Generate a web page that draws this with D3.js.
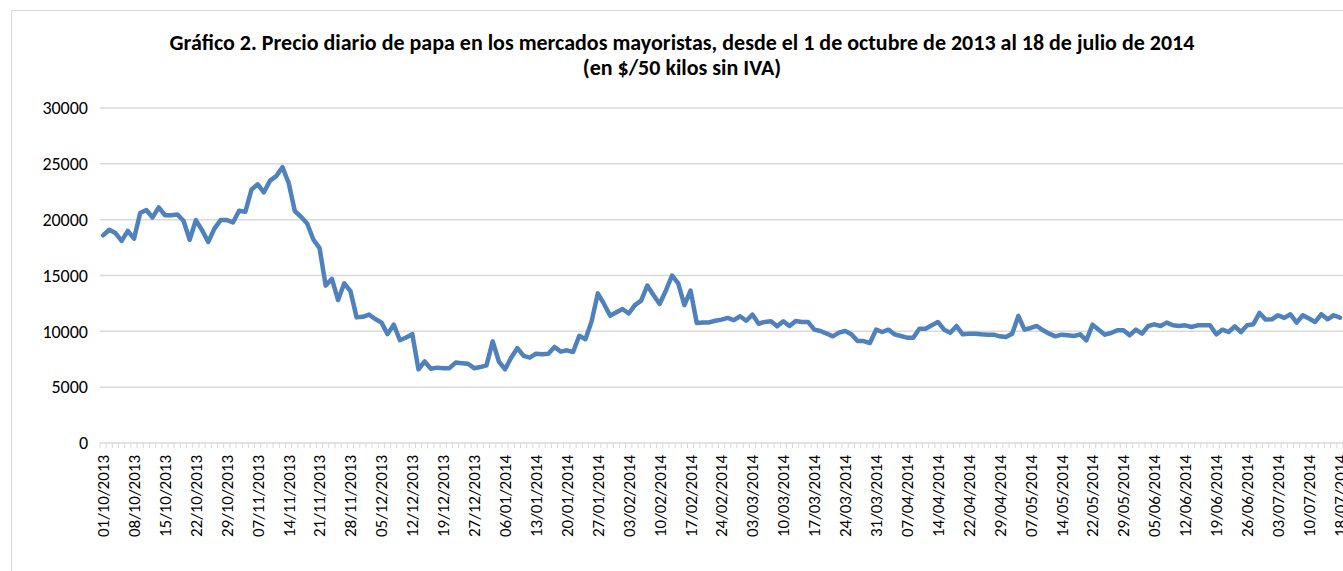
<!DOCTYPE html>
<html>
<head>
<meta charset="utf-8">
<script src="https://cdn.jsdelivr.net/npm/d3@7"></script>
<style>
  body { margin: 0; background: #fff; }
  svg { display: block; font-family: Carlito, Lato, "Open Sans", sans-serif; }
</style>
</head>
<body>
<svg id="chart" width="1343" height="571"></svg>
<script>
// tick labels every 5 trading days
const tickLabels = [
  "01/10/2013","08/10/2013","15/10/2013","22/10/2013","29/10/2013","07/11/2013","14/11/2013",
  "21/11/2013","28/11/2013","05/12/2013","12/12/2013","19/12/2013","27/12/2013","06/01/2014",
  "13/01/2014","20/01/2014","27/01/2014","03/02/2014","10/02/2014","17/02/2014","24/02/2014",
  "03/03/2014","10/03/2014","17/03/2014","24/03/2014","31/03/2014","07/04/2014","14/04/2014",
  "22/04/2014","29/04/2014","07/05/2014","14/05/2014","22/05/2014","29/05/2014","05/06/2014",
  "12/06/2014","19/06/2014","26/06/2014","03/07/2014","10/07/2014","18/07/2014"
];

// daily price, $/50 kg sin IVA
const prices = [
  18600,19100,18800,18100,19000,18300,20600,20860,20200,21100,
  20400,20400,20470,19900,18200,19960,19060,18000,19200,19960,
  19960,19750,20800,20700,22700,23170,22450,23500,23900,24700,
  23300,20770,20260,19660,18220,17450,14100,14700,12800,14300,
  13600,11250,11300,11500,11100,10800,9750,10600,9200,9450,
  9750,6600,7300,6650,6750,6700,6700,7200,7150,7100,
  6700,6800,6950,9100,7300,6600,7650,8500,7800,7650,
  8000,7950,8000,8600,8180,8300,8150,9600,9300,10900,
  13400,12450,11400,11700,12000,11600,12350,12750,14100,13250,
  12450,13650,15000,14300,12350,13650,10750,10800,10800,10950,
  11050,11200,11000,11350,10950,11500,10680,10840,10900,10450,
  10900,10480,10930,10840,10840,10150,10030,9800,9550,9880,
  10030,9730,9130,9130,8950,10150,9940,10150,9730,9580,
  9430,9430,10240,10240,10540,10840,10150,9880,10480,9730,
  9790,9790,9730,9700,9700,9550,9490,9790,11380,10150,
  10300,10480,10090,9790,9550,9700,9640,9580,9730,9190,
  10600,10150,9700,9850,10090,10090,9640,10150,9790,10480,
  10630,10480,10780,10540,10480,10540,10390,10540,10540,10540,
  9730,10150,9940,10450,9940,10540,10630,11650,11050,11080,
  11440,11200,11530,10780,11440,11140,10840,11530,11080,11440,
  11230
];

const yTicks = [0, 5000, 10000, 15000, 20000, 25000, 30000];

const titleLines = [
  "Gráfico 2. Precio diario de papa en los mercados mayoristas, desde el 1 de octubre de 2013 al 18 de julio de 2014",
  "(en $/50 kilos sin IVA)"
];

const svg = d3.select("#chart");
const plot = { left: 100, right: 1343, top: 108, bottom: 443 };
const grid = "#d9d9d9";

// chart border
svg.append("rect")
  .attr("x", 11.5).attr("y", 10.5)
  .attr("width", 1400).attr("height", 600)
  .attr("fill", "none").attr("stroke", grid).attr("stroke-width", 1);

const x = d3.scaleBand()
  .domain(d3.range(prices.length))
  .range([plot.left, plot.right]);

const y = d3.scaleLinear()
  .domain([0, 30000])
  .range([plot.bottom, plot.top]);

// gridlines
svg.append("g")
  .selectAll("line")
  .data(yTicks)
  .join("line")
  .attr("x1", plot.left).attr("x2", plot.right)
  .attr("y1", d => y(d)).attr("y2", d => y(d))
  .attr("stroke", grid).attr("stroke-width", 1.5);

// y labels
svg.append("g")
  .selectAll("text")
  .data(yTicks)
  .join("text")
  .attr("x", 88).attr("y", d => y(d))
  .attr("dy", "0.35em")
  .attr("text-anchor", "end")
  .attr("font-size", 18)
  .attr("fill", "#000")
  .text(d => d);

// category tick marks
const bounds = d3.range(prices.length + 1).map(i => plot.left + i * x.step());
svg.append("g")
  .selectAll("line")
  .data(bounds)
  .join("line")
  .attr("x1", d => d).attr("x2", d => d)
  .attr("y1", plot.bottom).attr("y2", plot.bottom + 5)
  .attr("stroke", grid).attr("stroke-width", 1);

// x labels
svg.append("g")
  .selectAll("text")
  .data(tickLabels)
  .join("text")
  .attr("transform", (d, i) => `translate(${x(i * 5) + x.bandwidth() / 2},455) rotate(-90)`)
  .attr("dy", "0.35em")
  .attr("text-anchor", "end")
  .attr("font-size", 17)
  .attr("fill", "#000")
  .text(d => d);

// line
const line = d3.line()
  .x((d, i) => x(i) + x.bandwidth() / 2)
  .y(d => y(d));

svg.append("path")
  .datum(prices)
  .attr("d", line)
  .attr("fill", "none")
  .attr("stroke", "#4f81bd")
  .attr("stroke-width", 4.5)
  .attr("stroke-linejoin", "round")
  .attr("stroke-linecap", "round");

// title
svg.append("g")
  .selectAll("text")
  .data(titleLines)
  .join("text")
  .attr("x", 682)
  .attr("y", (d, i) => 50 + i * 25)
  .attr("text-anchor", "middle")
  .attr("font-weight", "bold")
  .attr("font-size", 22)
  .attr("fill", "#000")
  .text(d => d);
</script>
</body>
</html>
